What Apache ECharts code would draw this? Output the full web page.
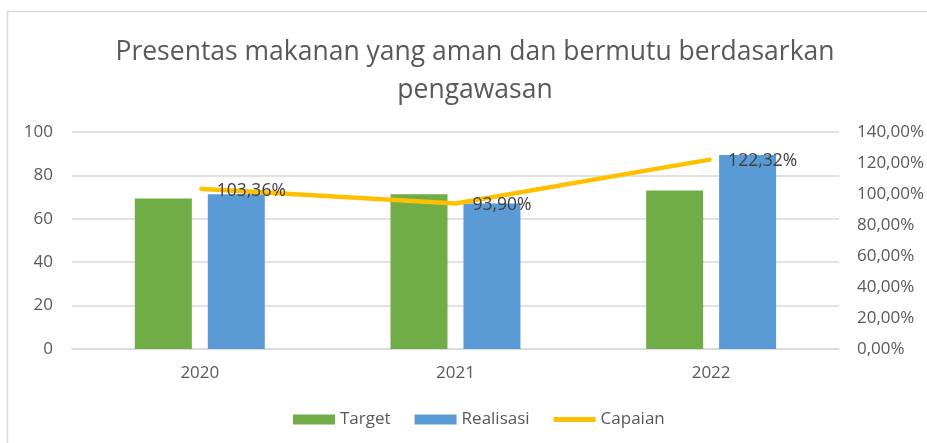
<!DOCTYPE html>
<html>
<head>
<meta charset="utf-8">
<script src="https://cdn.jsdelivr.net/npm/echarts@6/dist/echarts.min.js"></script>
<style>
  html, body { margin: 0; padding: 0; background: #fff; }
  #chart { width: 927px; height: 443px; }
</style>
</head>
<body>
<div id="chart"></div>
<script>
  var years = ['2020', '2021', '2022'];
  var target = [69.3, 71.3, 73.0];
  var realisasi = [71.3, 67.1, 89.4];
  var capaian = [103.36, 93.90, 122.32];
  var leftTicks = [0, 20, 40, 60, 80, 100];

  var myChart = echarts.init(document.getElementById('chart'));
  var font = 'Open Sans';
  var grey = '#595959';

  function pct(v) {
    return v.toFixed(2).replace('.', ',') + '%';
  }

  var option = {
    backgroundColor: '#fff',
    animation: false,
    textStyle: { fontFamily: font },
    graphic: [{
      type: 'rect',
      shape: { x: 7.5, y: 11.5, width: 940, height: 450 },
      style: { fill: 'none', stroke: '#D9D9D9', lineWidth: 1.5 },
      silent: true
    }],
    title: {
      text: 'Presentas makanan yang aman dan bermutu berdasarkan\npengawasan',
      left: 470,
      textAlign: 'center',
      top: 28,
      textStyle: {
        fontFamily: font,
        fontSize: 26.5,
        fontWeight: 'normal',
        color: grey,
        lineHeight: 38
      }
    },
    legend: {
      bottom: 10,
      left: 288,
      itemGap: 24,
      itemWidth: 42,
      itemHeight: 10,
      textStyle: { fontFamily: font, fontSize: 17, color: grey },
      data: [
        { name: 'Target', icon: 'rect' },
        { name: 'Realisasi', icon: 'rect' },
        { name: 'Capaian', icon: 'path://M0,0h42v5h-42z' }
      ]
    },
    grid: {
      left: 72,
      right: 87,
      top: 132,
      bottom: 94
    },
    xAxis: {
      type: 'category',
      data: years,
      axisTick: { show: false },
      axisLine: { lineStyle: { color: '#D9D9D9', width: 1.5 } },
      axisLabel: { color: grey, fontSize: 17, margin: 16, fontFamily: font }
    },
    yAxis: [{
      type: 'value',
      min: 0,
      max: leftTicks[leftTicks.length - 1],
      interval: 20,
      axisLine: { show: false },
      axisTick: { show: false },
      axisLabel: { color: grey, fontSize: 17, margin: 19, fontFamily: font },
      splitLine: { lineStyle: { color: '#D9D9D9', width: 1.5 } }
    }, {
      type: 'value',
      min: 0,
      max: 140,
      interval: 20,
      axisLine: { show: false },
      axisTick: { show: false },
      splitLine: { show: false },
      axisLabel: {
        color: grey, fontSize: 17, margin: 18, fontFamily: font,
        formatter: function (v) { return pct(v); }
      }
    }],
    series: [{
      name: 'Target',
      type: 'bar',
      data: target,
      barWidth: 57,
      barGap: '28%',
      itemStyle: { color: '#70AD47' }
    }, {
      name: 'Realisasi',
      type: 'bar',
      data: realisasi,
      barWidth: 57,
      itemStyle: { color: '#5B9BD5' }
    }, {
      name: 'Capaian',
      type: 'line',
      yAxisIndex: 1,
      data: capaian,
      symbol: 'circle',
      symbolSize: 2,
      showSymbol: true,
      lineStyle: { color: '#FFC000', width: 4.5 },
      itemStyle: { color: '#FFC000' },
      label: {
        show: true,
        position: 'right',
        distance: 16,
        offset: [0, 2],
        color: '#404040',
        fontSize: 17.5,
        fontFamily: font,
        formatter: function (p) { return pct(p.value); }
      }
    }]
  };
  myChart.setOption(option);
</script>
</body>
</html>
